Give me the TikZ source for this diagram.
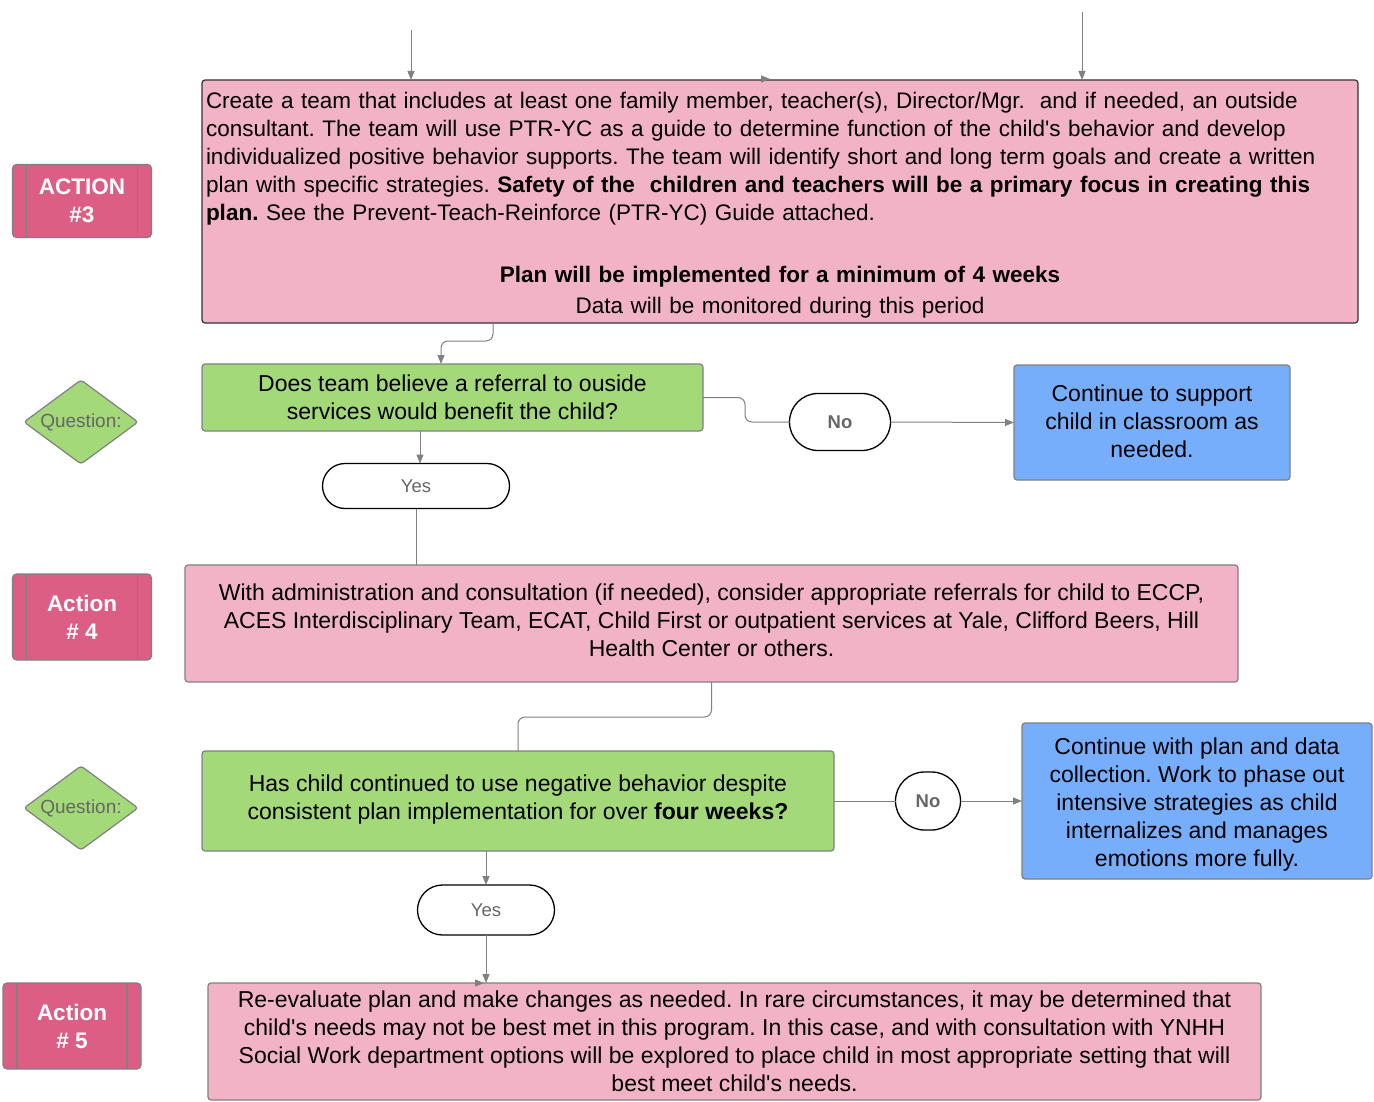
\documentclass[tikz,border=0pt]{standalone}
\usepackage{fontspec}
\setmainfont{Liberation Sans}[Ligatures=TeXOff]
\usetikzlibrary{shapes.geometric,shapes.misc,arrows.meta}
\definecolor{pinkfill}{HTML}{F3B3C6}
\definecolor{actfill}{HTML}{DD5E85}
\definecolor{greenfill}{HTML}{A3D978}
\definecolor{bluefill}{HTML}{76AEFB}
\definecolor{edgegray}{HTML}{808080}
\definecolor{darkedge}{HTML}{333333}
\definecolor{lbltext}{HTML}{666666}
\frenchspacing
\tikzset{
  every node/.style={inner sep=0pt, outer sep=0pt},
  bodytext/.style={font=\fontsize{23}{28}\selectfont},
  pinkbox/.style={draw=edgegray, line width=1.2pt, fill=pinkfill, rounded corners=3pt, bodytext},
  greenbox/.style={draw=edgegray, line width=1.2pt, fill=greenfill, rounded corners=3pt, bodytext, align=center},
  bluebox/.style={draw=edgegray, line width=1.2pt, fill=bluefill, rounded corners=3pt, bodytext, align=center},
  actlabel/.style={draw=edgegray, line width=1.2pt, fill=actfill, rounded corners=4pt, text=white,
     font=\bfseries\fontsize{22.5}{28}\selectfont, align=center, minimum width=139pt},
  qdiamond/.style={diamond, draw=edgegray, line width=1.2pt, fill=greenfill, rounded corners=3pt,
     minimum width=114pt, minimum height=84pt,
     label={[text=lbltext, font=\fontsize{19}{22}\selectfont]center:#1}},
  answer/.style={rounded rectangle, draw=black, line width=1.3pt, fill=white, text=lbltext,
     font=\fontsize{18.5}{22}\selectfont},
  conn/.style={draw=edgegray, line width=1pt},
  tip/.style={-{Triangle[length=9pt,width=7pt]}},
}
\begin{document}
\begin{tikzpicture}[x=1pt,y=-1pt]
\useasboundingbox (0,0) rectangle (1374,1102);

% ---------- Action 3 ----------
\node[pinkbox, draw=darkedge, anchor=north west, minimum width=1156pt, minimum height=243pt,
      text width=1148pt, align=left, inner xsep=4pt, font=\fontsize{22.5}{28}\selectfont] (a3) at (202,80)
  {\rule{0pt}{24.5pt}Create a team that includes at least one family member, teacher(s), Director/Mgr.\ \ and if needed, an outside\\
   consultant. The team will use PTR-YC as a guide to determine function of the child's behavior and develop\\
   individualized positive behavior supports. The team will identify short and long term goals and create a written\\
   plan with specific strategies. \textbf{Safety of the\ \ children and teachers will be a primary focus in creating this}\\
   \textbf{plan.} See the Prevent-Teach-Reinforce (PTR-YC) Guide attached.\\[34pt]
   \makebox[1148pt][c]{\textbf{Plan will be implemented for a minimum of 4 weeks}}\\[3pt]
   \makebox[1148pt][c]{Data will be monitored during this period}};

\node[actlabel, minimum height=73pt] (l3) at (82,201) {ACTION\\\#3};

\coordinate (t1) at (411,30);
\coordinate (t2) at (1082,12);
\draw[conn,tip] (t1) -- (t1 |- a3.north);
\draw[conn,tip] (t2) -- (t2 |- a3.north);
\coordinate (s1) at (770,79);
\draw[conn,tip] ([xshift=-2pt]s1) -- (s1);

% ---------- Question 1 ----------
\node[greenbox, anchor=north west, minimum width=501pt, minimum height=67pt] (q1) at (202,364)
  {Does team believe a referral to ouside\\services would benefit the child?};
\node[qdiamond=Question:] (d1) at (81,422) {};

\draw[conn,tip,rounded corners=7pt] ([xshift=291pt]a3.south west) -- ++(0,18) -| ([xshift=239pt]q1.north west);

\node[answer, minimum width=187pt, minimum height=45pt] (y1) at (416,486) {Yes};
\draw[conn,tip] ([xshift=4pt]y1.north |- q1.south) -- ([xshift=4pt]y1.north);

\node[answer, font=\bfseries\fontsize{18.5}{22}\selectfont, minimum width=101pt, minimum height=57pt] (n1) at (840,422) {No};
\draw[conn,rounded corners=7pt] (q1.east) -- ++(42,0) |- (n1.west);

\node[bluebox, anchor=north west, minimum width=276pt, minimum height=115pt] (b1) at (1014,365)
  {Continue to support\\child in classroom as\\needed.\rule[-2pt]{0pt}{0pt}};
\draw[conn,tip] (n1.east) -- (b1.west);

% ---------- Action 4 ----------
\node[pinkbox, anchor=north west, minimum width=1053pt, minimum height=117pt, align=center] (a4) at (185,565)
  {With administration and consultation (if needed), consider appropriate referrals for child to ECCP,\\
   ACES Interdisciplinary Team, ECAT, Child First or outpatient services at Yale, Clifford Beers, Hill\\
   Health Center or others.\rule[-6pt]{0pt}{0pt}};
\node[actlabel, minimum height=86pt] (l4) at (82,617) {Action\\\# 4};
\draw[conn] (y1.south) -- (y1.south |- a4.north);

% ---------- Question 2 ----------
\node[greenbox, anchor=north west, minimum width=632pt, minimum height=100pt] (q2) at (202,751)
  {Has child continued to use negative behavior despite\\consistent plan implementation for over \textbf{four weeks?}\rule[-7pt]{0pt}{0pt}};
\node[qdiamond=Question:] (d2) at (81,808) {};
\draw[conn,rounded corners=7pt] (a4.south) -- ++(0,35) -| (q2.north);

\node[answer, font=\bfseries\fontsize{18.5}{22}\selectfont, minimum width=65pt, minimum height=58pt] (n2) at (928,801) {No};
\draw[conn] (q2.east |- n2.west) -- (n2.west);

\node[bluebox, anchor=north west, minimum width=350pt, minimum height=156pt] (b2) at (1022,723)
  {\rule{0pt}{23.5pt}Continue with plan and data\\collection. Work to phase out\\intensive strategies as child\\internalizes and manages\\emotions more fully.};
\draw[conn,tip] (n2.east) -- (n2.east -| b2.west);

\node[answer, minimum width=137pt, minimum height=50pt] (y2) at (486,910) {Yes};
\draw[conn,tip] (y2.north |- q2.south) -- (y2.north);

% ---------- Action 5 ----------
\node[pinkbox, anchor=north west, minimum width=1053pt, minimum height=117pt, align=center] (a5) at (208,983)
  {Re-evaluate plan and make changes as needed. In rare circumstances, it may be determined that\\
   child's needs may not be best met in this program. In this case, and with consultation with YNHH\\
   Social Work department options will be explored to place child in most appropriate setting that will\\
   best meet child's needs.};
\node[actlabel, minimum height=86pt, minimum width=138pt] (l5) at (72,1026) {Action\\\# 5};
\draw[conn,tip] (y2.south) -- (y2.south |- a5.north);
\coordinate (s2) at (484,983);
\draw[conn,tip] ([xshift=-2pt]s2) -- (s2);

% vertical bars in action labels
\foreach \n in {l3,l4,l5}{
  \draw[edgegray, line width=1.2pt] ([xshift=14pt]\n.north west) -- ([xshift=14pt]\n.south west);
  \draw[edgegray, line width=1.2pt] ([xshift=-14pt]\n.north east) -- ([xshift=-14pt]\n.south east);
}
\end{tikzpicture}
\end{document}
